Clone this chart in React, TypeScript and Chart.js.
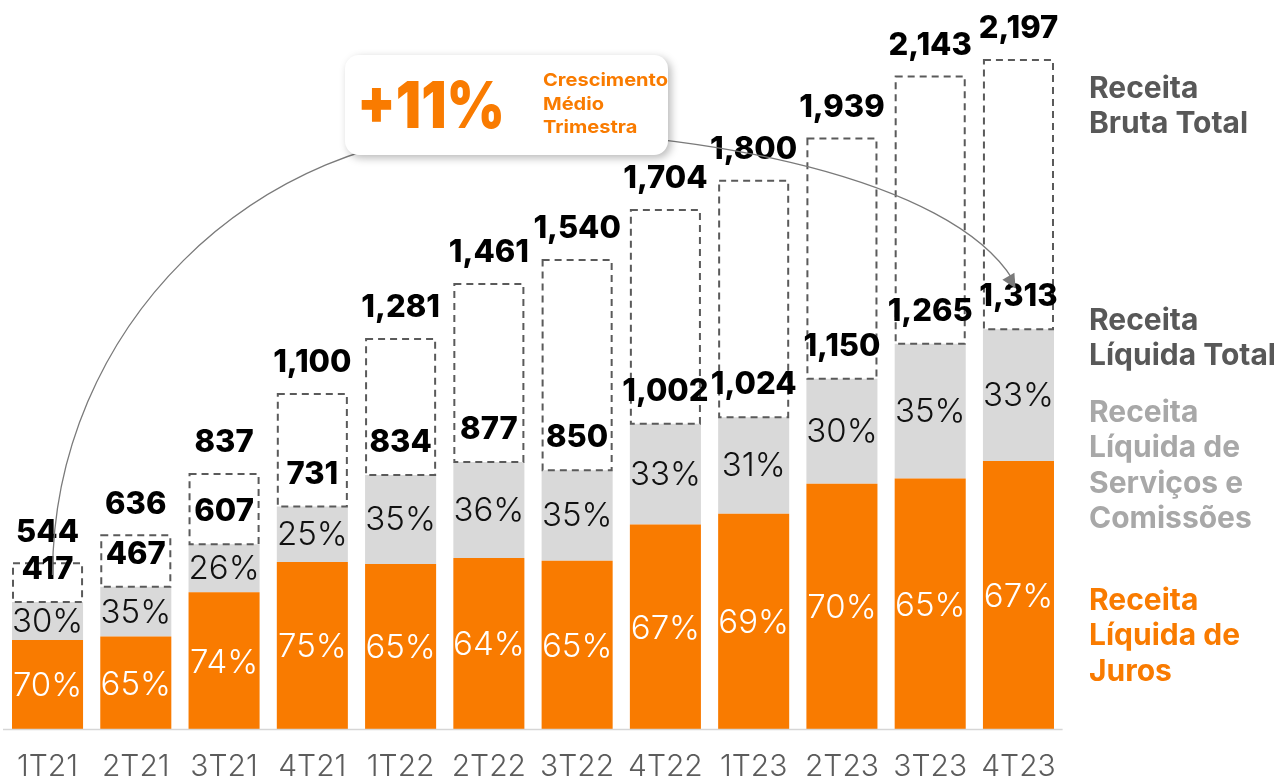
import React, { useEffect, useRef } from 'react';
import { Chart, registerables } from 'chart.js';
Chart.register(...registerables);

const categories = ['1T21', '2T21', '3T21', '4T21', '1T22', '2T22', '3T22', '4T22', '1T23', '2T23', '3T23', '4T23'];
const receitaBruta = [544, 636, 837, 1100, 1281, 1461, 1540, 1704, 1800, 1939, 2143, 2197];
const receitaLiquida = [417, 467, 607, 731, 834, 877, 850, 1002, 1024, 1150, 1265, 1313];
const jurosPct = [70, 65, 74, 75, 65, 64, 65, 67, 69, 70, 65, 67];
const servicosPct = [30, 35, 26, 25, 35, 36, 35, 33, 31, 30, 35, 33];

const growthValue = '+11%';
const growthText = ['Crescimento', 'Médio', 'Trimestra'];
const legendBruta = ['Receita', 'Bruta Total'];
const legendLiquida = ['Receita', 'Líquida Total'];
const legendServicos = ['Receita', 'Líquida de', 'Serviços e', 'Comissões'];
const legendJuros = ['Receita', 'Líquida de', 'Juros'];

const ORANGE = '#f97b00';
const GRAY = '#d9d9d9';
const W = 1288;
const H = 779;

const jurosValues = receitaLiquida.map((v, i) => (v * jurosPct[i]) / 100);
const servicosValues = receitaLiquida.map((v, i) => v - jurosValues[i]);
const brutaRest = receitaBruta.map((v, i) => v - receitaLiquida[i]);

const fmt = (n: number) => n.toLocaleString('en-US');

const overlay = {
  id: 'overlay',
  afterDatasetsDraw(chart: any) {
    const ctx: CanvasRenderingContext2D = chart.ctx;
    const x = chart.scales.x;
    const y = chart.scales.y;
    const m0 = chart.getDatasetMeta(0);
    const m1 = chart.getDatasetMeta(1);
    const m2 = chart.getDatasetMeta(2);
    ctx.save();

    // baseline
    ctx.strokeStyle = '#d6d6d6';
    ctx.lineWidth = 1.5;
    ctx.beginPath();
    ctx.moveTo(3, y.getPixelForValue(0) + 0.5);
    ctx.lineTo(chart.chartArea.right, y.getPixelForValue(0) + 0.5);
    ctx.stroke();

    // dashed boxes
    ctx.strokeStyle = '#5a5a5a';
    ctx.lineWidth = 2;
    ctx.setLineDash([7, 5]);
    m2.data.forEach((el: any) => {
      const p = el.getProps(['x', 'y', 'base', 'width'], true);
      ctx.strokeRect(p.x - p.width / 2 + 1, p.y, p.width - 2, p.base - p.y);
    });
    ctx.setLineDash([]);

    // percentage labels
    ctx.textAlign = 'center';
    ctx.textBaseline = 'middle';
    ctx.font = '300 33px Inter, "Open Sans", sans-serif';
    m0.data.forEach((el: any, i: number) => {
      const p = el.getProps(['x', 'y', 'base'], true);
      ctx.fillStyle = '#ffffff';
      ctx.fillText(jurosPct[i] + '%', p.x, (p.y + p.base) / 2 + 2);
    });
    m1.data.forEach((el: any, i: number) => {
      const p = el.getProps(['x', 'y', 'base'], true);
      ctx.fillStyle = '#111111';
      ctx.fillText(servicosPct[i] + '%', p.x, (p.y + p.base) / 2 + 1);
    });

    // value labels
    ctx.font = '800 31px Inter, "Open Sans", sans-serif';
    ctx.fillStyle = '#000000';
    categories.forEach((_, i) => {
      const cx = x.getPixelForValue(i);
      ctx.fillText(fmt(receitaBruta[i]), cx, y.getPixelForValue(receitaBruta[i]) - 31);
      ctx.fillText(fmt(receitaLiquida[i]), cx, y.getPixelForValue(receitaLiquida[i]) - 32);
    });

    // category labels
    ctx.font = '300 30px Inter, "Open Sans", sans-serif';
    ctx.fillStyle = '#5c5c5c';
    ctx.textBaseline = 'top';
    categories.forEach((c, i) => {
      ctx.fillText(c, x.getPixelForValue(i), 752);
    });

    // arc
    const sx = x.getPixelForValue(0) + 5;
    const sy = y.getPixelForValue(receitaLiquida[0]) - 27;
    const ex = x.getPixelForValue(categories.length - 1) - 6;
    const ey = y.getPixelForValue(receitaLiquida[categories.length - 1]) - 46;
    const tx = 500;
    const ty = 130;
    ctx.strokeStyle = '#7a7a7a';
    ctx.lineWidth = 1.3;
    ctx.beginPath();
    ctx.moveTo(sx, sy);
    ctx.bezierCurveTo(sx, sy - 0.5523 * (sy - ty), tx - 0.5523 * (tx - sx), ty, tx, ty);
    const c1x = 700, c1y = 130, c2x = 950, c2y = 178;
    ctx.bezierCurveTo(c1x, c1y, c2x, c2y, ex, ey - 4);
    ctx.stroke();
    // arrow head
    const ang = Math.atan2(ey - c2y, ex - c2x);
    ctx.fillStyle = '#7a7a7a';
    ctx.beginPath();
    ctx.moveTo(ex + Math.cos(ang) * 6, ey + Math.sin(ang) * 6);
    ctx.lineTo(ex - Math.cos(ang) * 8 + Math.cos(ang + Math.PI / 2) * 7, ey - Math.sin(ang) * 8 + Math.sin(ang + Math.PI / 2) * 7);
    ctx.lineTo(ex - Math.cos(ang) * 8 - Math.cos(ang + Math.PI / 2) * 7, ey - Math.sin(ang) * 8 - Math.sin(ang + Math.PI / 2) * 7);
    ctx.closePath();
    ctx.fill();

    // annotation box
    const bx = 345, by = 55, bw = 323, bh = 100, r = 14;
    ctx.save();
    ctx.shadowColor = 'rgba(0,0,0,0.28)';
    ctx.shadowBlur = 9;
    ctx.shadowOffsetX = 3;
    ctx.shadowOffsetY = 3;
    ctx.fillStyle = '#ffffff';
    ctx.beginPath();
    ctx.roundRect(bx, by, bw, bh, r);
    ctx.fill();
    ctx.restore();

    ctx.fillStyle = ORANGE;
    ctx.textAlign = 'left';
    ctx.textBaseline = 'alphabetic';
    ctx.font = '900 64px Inter, "Open Sans", sans-serif';
    const gw = ctx.measureText(growthValue).width;
    ctx.save();
    ctx.translate(357, 128);
    ctx.scale(148 / gw, 1);
    ctx.fillText(growthValue, 0, 0);
    ctx.restore();

    ctx.font = '700 18px Inter, "Open Sans", sans-serif';
    ctx.textBaseline = 'middle';
    growthText.forEach((t) => {});
    const cw = ctx.measureText(growthText[0]).width;
    ctx.save();
    ctx.translate(543, 0);
    ctx.scale(125 / cw, 1);
    growthText.forEach((t, i) => ctx.fillText(t, 0, 81 + i * 23.5));
    ctx.restore();

    // right legend
    ctx.font = '700 30px Inter, "Open Sans", sans-serif';
    const block = (lines: string[], y0: number, color: string) => {
      ctx.fillStyle = color;
      lines.forEach((t, i) => ctx.fillText(t, 1089, y0 + i * 35.3));
    };
    block(legendBruta, 89, '#585858');
    block(legendLiquida, 321, '#585858');
    block(legendServicos, 413, '#a8a8a8');
    block(legendJuros, 601, ORANGE);

    ctx.restore();
  },
};

export default function App() {
  const ref = useRef<HTMLCanvasElement | null>(null);
  useEffect(() => {
    if (!ref.current) return;
    const chart = new Chart(ref.current, {
      type: 'bar',
      data: {
        labels: categories,
        datasets: [
          { label: 'Receita Líquida de Juros', data: jurosValues, backgroundColor: ORANGE, borderWidth: 0 },
          { label: 'Receita Líquida de Serviços e Comissões', data: servicosValues, backgroundColor: GRAY, borderWidth: 0 },
          { label: 'Receita Bruta Total', data: brutaRest, backgroundColor: 'rgba(0,0,0,0)', borderWidth: 0 },
        ],
      },
      options: {
        responsive: false,
        animation: false,
        devicePixelRatio: 1,
        layout: { padding: { top: 28.6, bottom: 50, left: 3.4, right: 225.4 } },
        datasets: { bar: { categoryPercentage: 1, barPercentage: 0.805 } },
        plugins: { legend: { display: false }, tooltip: { enabled: false } },
        scales: {
          x: { stacked: true, display: false },
          y: { stacked: true, display: false, min: 0, max: 2300 },
        },
      },
      plugins: [overlay],
    });
    return () => chart.destroy();
  }, []);
  return (
    <div style={{ position: 'fixed', left: 0, top: 0, width: W, height: H, background: '#fff' }}>
      <canvas ref={ref} width={W} height={H} style={{ width: W, height: H, display: 'block' }} />
    </div>
  );
}
